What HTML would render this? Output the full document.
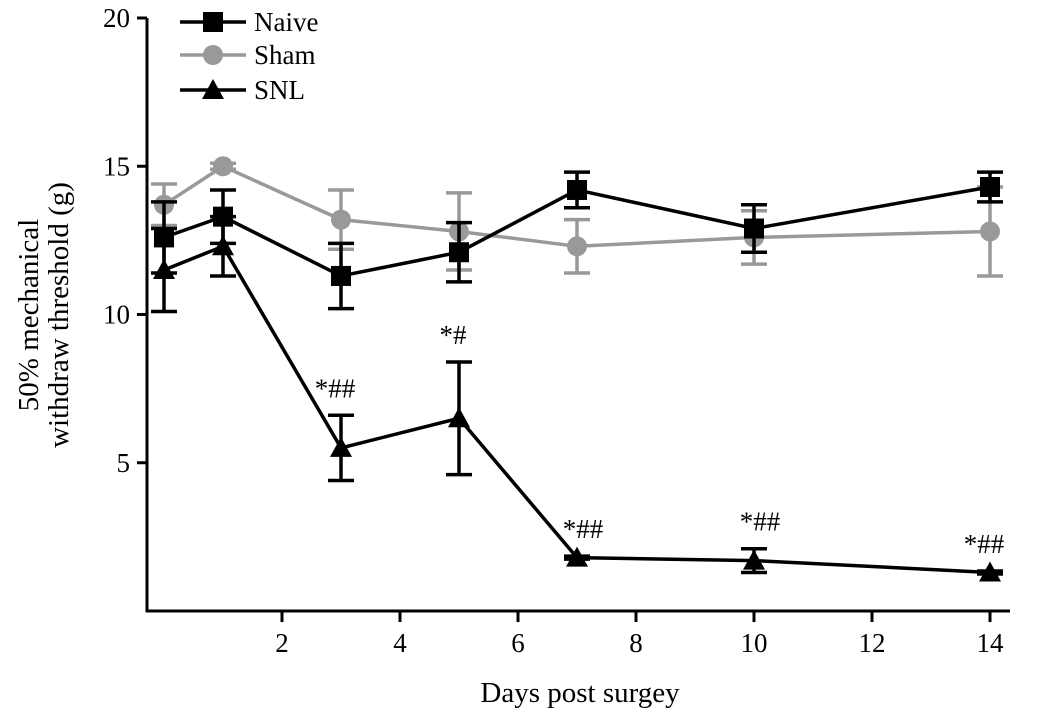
<!DOCTYPE html>
<html><head><meta charset="utf-8"><style>
body{margin:0;background:#fff;}
svg{display:block;font-family:"Liberation Serif",serif;}
</style></head><body>
<svg id="chart" width="1063" height="720"></svg>
<script>
const days=[0,1,3,5,7,10,14];
const naive=[12.6,13.3,11.3,12.1,14.2,12.9,14.3];
const naiveErr=[1.2,0.9,1.1,1.0,0.6,0.8,0.5];
const sham=[13.7,15.0,13.2,12.8,12.3,12.6,12.8];
const shamErr=[0.7,0.1,1.0,1.3,0.9,0.9,1.5];
const snl=[11.5,12.3,5.5,6.5,1.8,1.7,1.3];
const snlErr=[1.4,1.0,1.1,1.9,0.05,0.4,0.05];
const sigLabels=["","","*##","*#","*##","*##","*##"];
const xTicks=[2,4,6,8,10,12,14];
const yTicks=[5,10,15,20];

const NS="http://www.w3.org/2000/svg";
const svg=document.getElementById('chart');
const X=d=>164+d*59;
const Y=v=>611-v*29.65;
function el(t,a,p){const e=document.createElementNS(NS,t);for(const k in a)e.setAttribute(k,a[k]);(p||svg).appendChild(e);return e;}

const axes=el('g',{});


el('line',{x1:147,y1:18,x2:147,y2:612,stroke:'#000','stroke-width':3},axes);
el('line',{x1:146,y1:611,x2:1010,y2:611,stroke:'#000','stroke-width':3},axes);
yTicks.forEach(v=>{
  el('line',{x1:137,y1:Y(v),x2:147,y2:Y(v),stroke:'#000','stroke-width':3},axes);
  const t=el('text',{x:130,y:Y(v)+9,'text-anchor':'end','font-size':27},axes);t.textContent=v;
  
  
});
xTicks.forEach(v=>{
  el('line',{x1:X(v),y1:611,x2:X(v),y2:622,stroke:'#000','stroke-width':3},axes);
  const t=el('text',{x:X(v),y:652,'text-anchor':'middle','font-size':27},axes);t.textContent=v;
  
  
});
const xt=el('text',{x:580,y:702,'text-anchor':'middle','font-size':29});xt.textContent='Days post surgey';


const yt=el('text',{transform:'translate(38,315) rotate(-90)','text-anchor':'middle','font-size':29});


const t1=el('tspan',{x:0,dy:0},yt);t1.textContent='50% mechanical';
const t2=el('tspan',{x:0,dy:30},yt);t2.textContent='withdraw threshold (g)';

function marker(g,type,x,y,c){
  if(type==='sq')el('rect',{x:x-10,y:y-10,width:20,height:20,fill:c},g);
  else if(type==='ci')el('circle',{cx:x,cy:y,r:10,fill:c},g);
  else el('polygon',{points:`${x},${y-11} ${x-11},${y+9} ${x+11},${y+9}`,fill:c},g);
}
function series(name,vals,errs,color,type){
  const g=el('g',{});
  
  
  el('polyline',{points:vals.map((v,i)=>X(days[i])+','+Y(v)).join(' '),fill:'none',stroke:color,'stroke-width':3.5},g);
  vals.forEach((v,i)=>{
    const x=X(days[i]);
    el('line',{x1:x,y1:Y(v+errs[i]),x2:x,y2:Y(v-errs[i]),stroke:color,'stroke-width':3.5},g);
    [v+errs[i],v-errs[i]].forEach(e=>el('line',{x1:x-13,y1:Y(e),x2:x+13,y2:Y(e),stroke:color,'stroke-width':3.5},g));
    marker(g,type,x,Y(v),color);
  });
}
series('sham',sham,shamErr,'#999','ci');
series('naive',naive,naiveErr,'#000','sq');
series('snl',snl,snlErr,'#000','tri');
sigLabels.forEach((s,i)=>{
  if(!s)return;
  const dx=(i===4||i===5)?6:-6;
  const t=el('text',{x:X(days[i])+dx,y:Y(snl[i]+snlErr[i])-18,'text-anchor':'middle','font-size':27});t.textContent=s;
  
  
});
const leg=el('g',{});


[['Naive','#000','sq',22],['Sham','#999','ci',55],['SNL','#000','tri',90]].forEach(([n,c,t,y])=>{
  el('line',{x1:180,y1:y,x2:246,y2:y,stroke:c,'stroke-width':3.5},leg);
  marker(leg,t,213,y,c);
  const tx=el('text',{x:254,y:y+9,'font-size':27},leg);tx.textContent=n;
  
  
});
</script>
</body></html>
